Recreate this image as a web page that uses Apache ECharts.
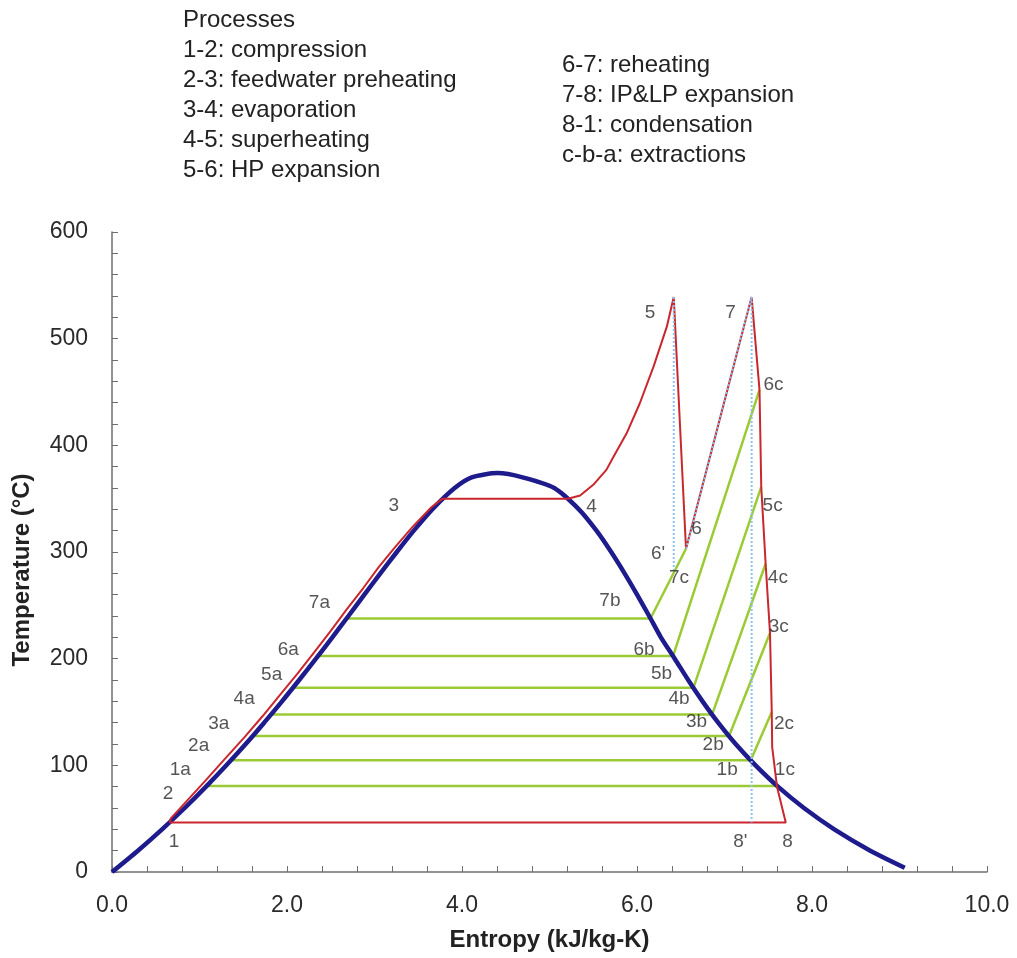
<!DOCTYPE html>
<html>
<head>
<meta charset="utf-8">
<script src="https://cdn.jsdelivr.net/npm/echarts@6/dist/echarts.min.js"></script>
<style>
html,body{margin:0;padding:0;background:#fff;}
#chart{width:1017px;height:958px;}
</style>
</head>
<body>
<div id="chart"></div>
<script>
// ---------- Data ----------
// Saturation dome (liquid line then vapour line)
const domeS = [0, 0.296, 0.572, 0.831, 1.075, 1.307, 1.528, 1.739, 1.943, 2.139, 2.331, 2.518, 2.702, 2.884, 3.067, 3.255, 3.449, 3.660, 3.916, 4.111, 4.407,
               4.692, 5.054, 5.336, 5.537, 5.705, 5.858, 6.001, 6.139, 6.273, 6.431, 6.585, 6.749, 6.928, 7.127, 7.355, 7.611, 7.908, 8.255, 8.666, 9.06];
const domeT = [0, 20, 40, 60, 80, 100, 120, 140, 160, 180, 200, 220, 240, 260, 280, 300, 320, 340, 360, 370, 374,
               370, 360, 340, 320, 300, 280, 260, 240, 220, 200, 180, 160, 140, 120, 100, 80, 60, 40, 20, 4];

// Cycle 1-2-3 (compression + feedwater preheating)
const preheatS = [0.66, 0.67, 1.06, 1.29, 1.51, 1.72, 1.92, 2.12, 2.31, 2.50, 2.68, 2.87, 3.05, 3.24, 3.44, 3.65, 3.778];
const preheatT = [46.5, 50, 85, 106, 126, 146, 166, 186, 206, 226, 246, 266, 286, 305, 324, 342, 350];
// 4-5 (evaporation end + superheating)
const superS = [5.211, 5.35, 5.50, 5.65, 5.73, 5.88, 6.03, 6.19, 6.34, 6.42];
const superT = [350, 353, 363, 377, 389, 411, 439, 474, 511, 539];
// 6 (end of HP expansion)
const point6 = [6.56, 303];
// 7-8 (IP&LP expansion)
const expS = [7.31, 7.40, 7.42, 7.47, 7.52, 7.54, 7.545, 7.60, 7.70];
const expT = [539, 452, 361, 289, 224, 150, 117, 80, 46.5];

// Extractions c-b-a (1..7)
const extrT  = [80.6, 104.7, 127.5, 147.7, 172.7, 202.4, 237.7];
const extrAS = [1.082, 1.359, 1.607, 1.818, 2.067, 2.353, 2.681];
const extrBS = [7.60, 7.30, 7.052, 6.859, 6.645, 6.412, 6.154];
const extrCS = [7.60, 7.54, 7.52, 7.47, 7.42, 7.40, 6.56];
const extrCT = [80.6, 150, 224, 289, 361, 452, 303];

// Isentropic (ideal) expansion lines, dotted
const isoHP = [[6.42, 539], [6.42, 283]];
const isoLP = [[7.31, 539], [7.31, 46.5]];
const reheat67 = [[6.56, 303], [7.31, 539]];

// Point labels (text and where it sits, in data units)
const labelNames = ['1','2','1a','2a','3a','4a','5a','6a','7a','3','4','5','6',"6'",'7','7b','7c','6b','5b','4b','3b','2b','1b','6c','5c','4c','3c','2c','1c',"8'",'8'];
const labelS = [0.71, 0.64, 0.78, 0.99, 1.22, 1.51, 1.825, 2.015, 2.37, 3.22, 5.48, 6.15, 6.68, 6.24, 7.07, 5.69, 6.48, 6.08, 6.28, 6.48, 6.68, 6.87, 7.03, 7.56, 7.55, 7.61, 7.62, 7.68, 7.69, 7.18, 7.72];
const labelT = [28.4, 73.7, 95.6, 118.4, 139.3, 162.7, 185.2, 208.1, 252.4, 343.3, 342.4, 524, 322, 298.7, 524, 254.2, 275.8, 208.1, 186.1, 162.7, 140.8, 119, 96.2, 456.4, 343.3, 275.8, 229.9, 139.3, 95.6, 28.4, 28.4];

// Legend text
const legendLeft = ['Processes', '1-2: compression', '2-3: feedwater preheating', '3-4: evaporation', '4-5: superheating', '5-6: HP expansion'];
const legendRight = ['6-7: reheating', '7-8: IP&LP expansion', '8-1: condensation', 'c-b-a: extractions'];

// ---------- Build ----------
const zip = (a, b) => a.map((v, i) => [v, b[i]]);
const FONT = '"Liberation Sans", Arial, sans-serif';
const RED = '#c9272d', BLUE = '#1e1b8c', GREEN = '#9acb34', DOT = '#8fc1ee';

const domeData = zip(domeS, domeT);
const cycleData = [].concat(
  zip(preheatS, preheatT),
  zip(superS, superT),
  [point6],
  zip(expS, expT),
  [[preheatS[0], preheatT[0]]]
);

const series = [];
// extractions (green)
extrT.forEach((t, i) => {
  series.push({
    type: 'line', silent: true, symbol: 'none', z: 2,
    lineStyle: { color: GREEN, width: 2.5 },
    data: [[extrAS[i], t], [extrBS[i], t], [extrCS[i], extrCT[i]]]
  });
});
series.push({
  type: 'line', silent: true, symbol: 'none', z: 3, smooth: 0.25,
  lineStyle: { color: BLUE, width: 4.5 },
  data: domeData
});
series.push({
  type: 'line', silent: true, symbol: 'none', z: 4,
  lineStyle: { color: RED, width: 2 },
  data: cycleData
});
[isoHP, isoLP, reheat67].forEach(d => {
  series.push({
    type: 'line', silent: true, symbol: 'none', z: 5,
    lineStyle: { color: DOT, width: 2, type: 'dotted' },
    data: d
  });
});
series.push({
  type: 'scatter', silent: true, symbolSize: 0, z: 6,
  data: labelNames.map((n, i) => ({ value: [labelS[i], labelT[i]], name: n })),
  label: { show: true, position: 'inside', formatter: p => p.name,
           color: '#2a2a2a', fontSize: 19, fontFamily: FONT }
});

const graphics = [];
legendLeft.forEach((t, i) => graphics.push({
  type: 'text', left: 183, top: 8 + i * 30,
  style: { text: t, fill: '#222', font: '24px ' + FONT }
}));
legendRight.forEach((t, i) => graphics.push({
  type: 'text', left: 562, top: 53 + i * 30,
  style: { text: t, fill: '#222', font: '24px ' + FONT }
}));

const axisCommon = {
  type: 'value',
  axisLine: { show: true, onZero: false, lineStyle: { color: '#6f6f6f', width: 1.5 } },
  axisTick: { show: true, inside: true, length: 6, lineStyle: { color: '#6f6f6f' } },
  minorTick: { show: true, splitNumber: 5, length: 6, lineStyle: { color: '#6f6f6f' } },
  splitLine: { show: false },
  minorSplitLine: { show: false },
  nameTextStyle: { fontFamily: FONT, fontWeight: 'bold', fontSize: 24, color: '#222' }
};

const chart = echarts.init(document.getElementById('chart'), null, { renderer: 'canvas' });
chart.setOption({
  animation: false,
  backgroundColor: '#fff',
  grid: { left: 112, top: 232, width: 875, height: 640, containLabel: false },
  xAxis: Object.assign({}, axisCommon, {
    min: 0, max: 10, interval: 2,
    name: 'Entropy (kJ/kg-K)', nameLocation: 'middle', nameGap: 56,
    axisLabel: { formatter: v => v.toFixed(1), margin: 22, fontSize: 23, color: '#2a2a2a', fontFamily: FONT }
  }),
  yAxis: Object.assign({}, axisCommon, {
    min: 0, max: 600, interval: 100,
    name: 'Temperature (°C)', nameLocation: 'middle', nameGap: 78,
    nameTextStyle: Object.assign({}, axisCommon.nameTextStyle, { padding: [0, 36, 0, 0] }),
    axisLabel: { margin: 24, fontSize: 23, color: '#2a2a2a', fontFamily: FONT }
  }),
  graphic: graphics,
  series: series
});
</script>
</body>
</html>
